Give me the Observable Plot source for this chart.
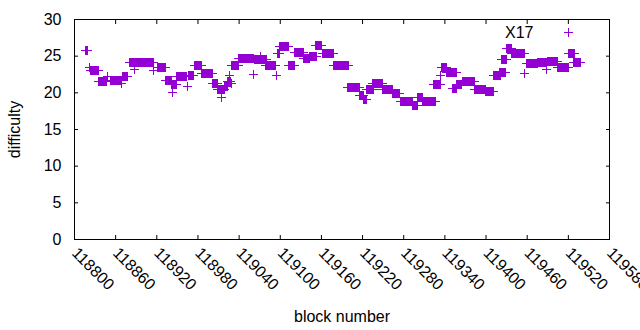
<!DOCTYPE html>
<html>
<head>
<meta charset="utf-8">
<script src="https://cdn.jsdelivr.net/npm/d3@7"></script>
<script src="https://cdn.jsdelivr.net/npm/@observablehq/plot@0.6"></script>
<style>
  html, body { margin: 0; padding: 0; background: white; }
</style>
</head>
<body>
<div id="chart"></div>
<script>
// Runs of blocks sharing the same difficulty
const blockFrom = [118816,118822,118823,118835,118848,118852,118869,118870,118880,118887,118915,118921,118933,118941,118943,118949,118965,118966,118975,118985,119001,119008,119014,119019,119023,119026,119029,119029,119039,119061,119062,119071,119078,119095,119096,119099,119112,119121,119134,119143,119152,119162,119178,119198,119216,119221,119226,119234,119249,119264,119275,119293,119300,119307,119323,119333,119335,119342,119351,119357,119366,119383,119399,119411,119420,119423,119430,119437,119456,119459,119475,119488,119490,119504,119520,119528];
const blockTo   = [118819,118822,118835,118847,118848,118868,118869,118877,118915,118887,118915,118933,118942,118949,118943,118963,118965,118973,118985,119001,119008,119019,119014,119023,119027,119026,119029,119039,119061,119061,119080,119071,119093,119095,119099,119112,119121,119134,119143,119153,119160,119178,119199,119216,119221,119226,119236,119249,119264,119274,119293,119300,119307,119326,119334,119333,119342,119357,119357,119364,119383,119399,119411,119421,119428,119430,119437,119456,119456,119475,119488,119488,119504,119520,119529,119538];
const difficulty = [25.8,23.5,23.0,21.5,22.2,21.7,21.3,22.2,24.1,23.2,23.1,23.5,21.7,21.1,20.1,22.2,20.9,22.3,23.7,22.7,21.3,20.5,19.3,20.8,21.6,22.3,21.3,23.7,24.7,22.5,24.5,25.0,23.7,22.3,25.4,26.3,23.7,25.5,24.7,25.0,26.4,25.4,23.7,20.7,19.7,19.1,20.4,21.3,20.4,19.9,18.8,18.3,19.3,18.8,21.2,22.4,23.4,22.8,20.6,21.1,21.6,20.5,20.2,22.4,22.8,24.5,26.0,25.3,22.6,24.0,24.1,23.2,24.3,23.5,25.3,24.1];

const xTicks = [118800,118860,118920,118980,119040,119100,119160,119220,119280,119340,119400,119460,119520,119580];
const yTicks = [0,5,10,15,20,25,30];
const seriesName = "X17";

// one record per block
const data = [];
blockFrom.forEach((b0, i) => {
  for (let b = b0; b <= blockTo[i]; b++) data.push({block: b, difficulty: difficulty[i]});
});

const purple = "#9400d3";
const plus = {
  draw(ctx, size) {
    const r = Math.sqrt(size / Math.PI);
    ctx.moveTo(-r, 0); ctx.lineTo(r, 0);
    ctx.moveTo(0, -r); ctx.lineTo(0, r);
  }
};

const chart = Plot.plot({
  width: 640,
  height: 330,
  marginLeft: 74,
  marginRight: 31,
  marginTop: 19,
  marginBottom: 91,
  style: {fontFamily: "'Liberation Sans', Arial, sans-serif", fontSize: "16px", background: "white", color: "black", overflow: "visible"},
  x: {domain: [118800, 119580]},
  y: {domain: [0, 30]},
  marks: [
    Plot.axisX(xTicks, {anchor: "bottom", tickSize: 0, tickPadding: 11, tickRotate: 45, tickFormat: d => String(d),
      label: "block number", labelAnchor: "center", labelArrow: "none", labelOffset: 82, fill: "black"}),
    Plot.axisX(xTicks, {anchor: "bottom", tickSize: -4, tickFormat: () => "", label: null}),
    Plot.axisX(xTicks, {anchor: "top", tickSize: -4, tickFormat: () => "", label: null}),
    Plot.axisY(yTicks, {anchor: "left", tickSize: 0, tickPadding: 13, tickFormat: d => String(d),
      label: "difficulty", labelAnchor: "center", labelArrow: "none", labelOffset: 66, fill: "black"}),
    Plot.axisY(yTicks, {anchor: "left", tickSize: -4, tickFormat: () => "", label: null}),
    Plot.axisY(yTicks, {anchor: "right", tickSize: -4, tickFormat: () => "", label: null}),
    Plot.frame({stroke: "black"}),
    Plot.dot(data, {x: "block", y: "difficulty", symbol: plus, r: 4.5, stroke: purple, fill: "none", strokeWidth: 1, shapeRendering: "crispEdges"}),
    Plot.text([seriesName], {frameAnchor: "top-right", dx: -76, dy: 13, textAnchor: "end", lineAnchor: "middle", fill: "black", fontSize: 16}),
    Plot.dot([seriesName], {frameAnchor: "top-right", dx: -41, dy: 13, symbol: plus, r: 4.5, stroke: purple, fill: "none", shapeRendering: "crispEdges"})
  ]
});
document.getElementById("chart").appendChild(chart);
</script>
</body>
</html>
